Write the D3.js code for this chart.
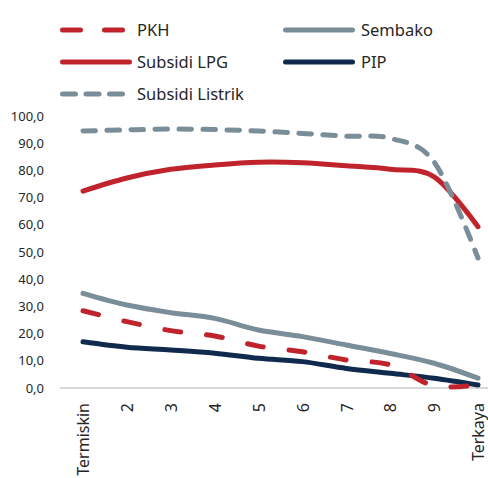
<!DOCTYPE html>
<html><head><meta charset="utf-8">
<script src="https://cdn.jsdelivr.net/npm/d3@7"></script>
<style>body{margin:0;background:#fff}svg{display:block}text{font-family:"Noto Sans",sans-serif;fill:#262626}</style>
</head><body><div id="chart"></div>
<script>
const categories = ["Termiskin","2","3","4","5","6","7","8","9","Terkaya"];
const pkh = [28.4,24.4,21.1,19.1,15.4,13.3,10.3,8.5,0.8,1.2];
const sembako = [34.8,30.5,27.7,25.6,21.3,18.9,15.8,12.7,9.1,3.6];
const subsidiLPG = [72.4,77.2,80.4,82.0,83.0,82.8,81.7,80.4,77.6,59.3];
const pip = [17.0,15.0,14.0,12.8,10.9,9.7,7.2,5.4,3.6,1.1];
const subsidiListrik = [94.5,94.9,95.2,95.0,94.5,93.6,92.6,91.8,83.1,47.8];
const yTicks = [0,10,20,30,40,50,60,70,80,90,100];

const series = [
  {name:"PKH", values:pkh, color:"#c1232d", dash:"16,26", ldash:"18,24"},
  {name:"Sembako", values:sembako, color:"#7a8e99", dash:null, ldash:null},
  {name:"Subsidi LPG", values:subsidiLPG, color:"#c1232d", dash:null, ldash:null},
  {name:"PIP", values:pip, color:"#0f2a4d", dash:null, ldash:null},
  {name:"Subsidi Listrik", values:subsidiListrik, color:"#7a8e99", dash:"12.5,11.5", ldash:"13,10.5"}
];

const W=488,H=478;
const svg=d3.select("#chart").append("svg").attr("width",W).attr("height",H);
const x=d3.scalePoint().domain(categories).range([83,478]);
const y=d3.scaleLinear().domain([0,100]).range([388,116]);

// baseline
svg.append("line").attr("x1",60).attr("x2",488).attr("y1",y(0)).attr("y2",y(0))
  .attr("stroke","#d9d9d9").attr("stroke-width",2);

// y axis labels
const yAxis=d3.axisLeft(y).tickValues(yTicks).tickSize(0).tickPadding(0)
  .tickFormat(d=>d3.format(".1f")(d).replace(".",","));
const gy=svg.append("g").attr("transform","translate(44,0)").call(yAxis);
gy.select(".domain").remove();
gy.selectAll("text").style("font-size","13px").attr("fill","#262626").style("font-family","'Noto Sans',sans-serif");

// x axis labels
const xAxis=d3.axisBottom(x).tickSize(0);
const gx=svg.append("g").attr("transform","translate(0,403)").call(xAxis);
gx.select(".domain").remove();
gx.selectAll("text").attr("transform","rotate(-90)").attr("x",0).attr("y",0).attr("dy","0.36em")
  .attr("text-anchor","end").style("font-size","16px").attr("fill","#262626").style("font-family","'Noto Sans',sans-serif");

const line=d3.line().x((d,i)=>x(categories[i])).y(d=>y(d)).curve(d3.curveCardinal.tension(0));
const order=[1,3,0,2,4];
order.forEach(k=>{
  const s=series[k];
  svg.append("path").datum(s.values).attr("d",line).attr("fill","none")
    .attr("stroke",s.color).attr("stroke-width",5).attr("stroke-linecap","round")
    .attr("stroke-linejoin","round").attr("stroke-dasharray",s.dash);
});

// legend
const legend=[
  {s:series[0], x1:62.5, x2:122.5, ty:30, tx:137},
  {s:series[1], x1:285.5, x2:352.5, ty:30, tx:361},
  {s:series[2], x1:62.5, x2:129.5, ty:62, tx:137},
  {s:series[3], x1:285.5, x2:352.5, ty:62, tx:361},
  {s:series[4], x1:62.5, x2:122.5, ty:94, tx:137}
];
legend.forEach(l=>{
  svg.append("line").attr("x1",l.x1).attr("x2",l.x2).attr("y1",l.ty).attr("y2",l.ty)
    .attr("stroke",l.s.color).attr("stroke-width",5).attr("stroke-linecap","round")
    .attr("stroke-dasharray",l.s.ldash);
  svg.append("text").attr("x",l.tx).attr("y",l.ty).attr("dy","0.35em")
    .style("font-size","16.5px").text(l.s.name);
});
</script></body></html>
